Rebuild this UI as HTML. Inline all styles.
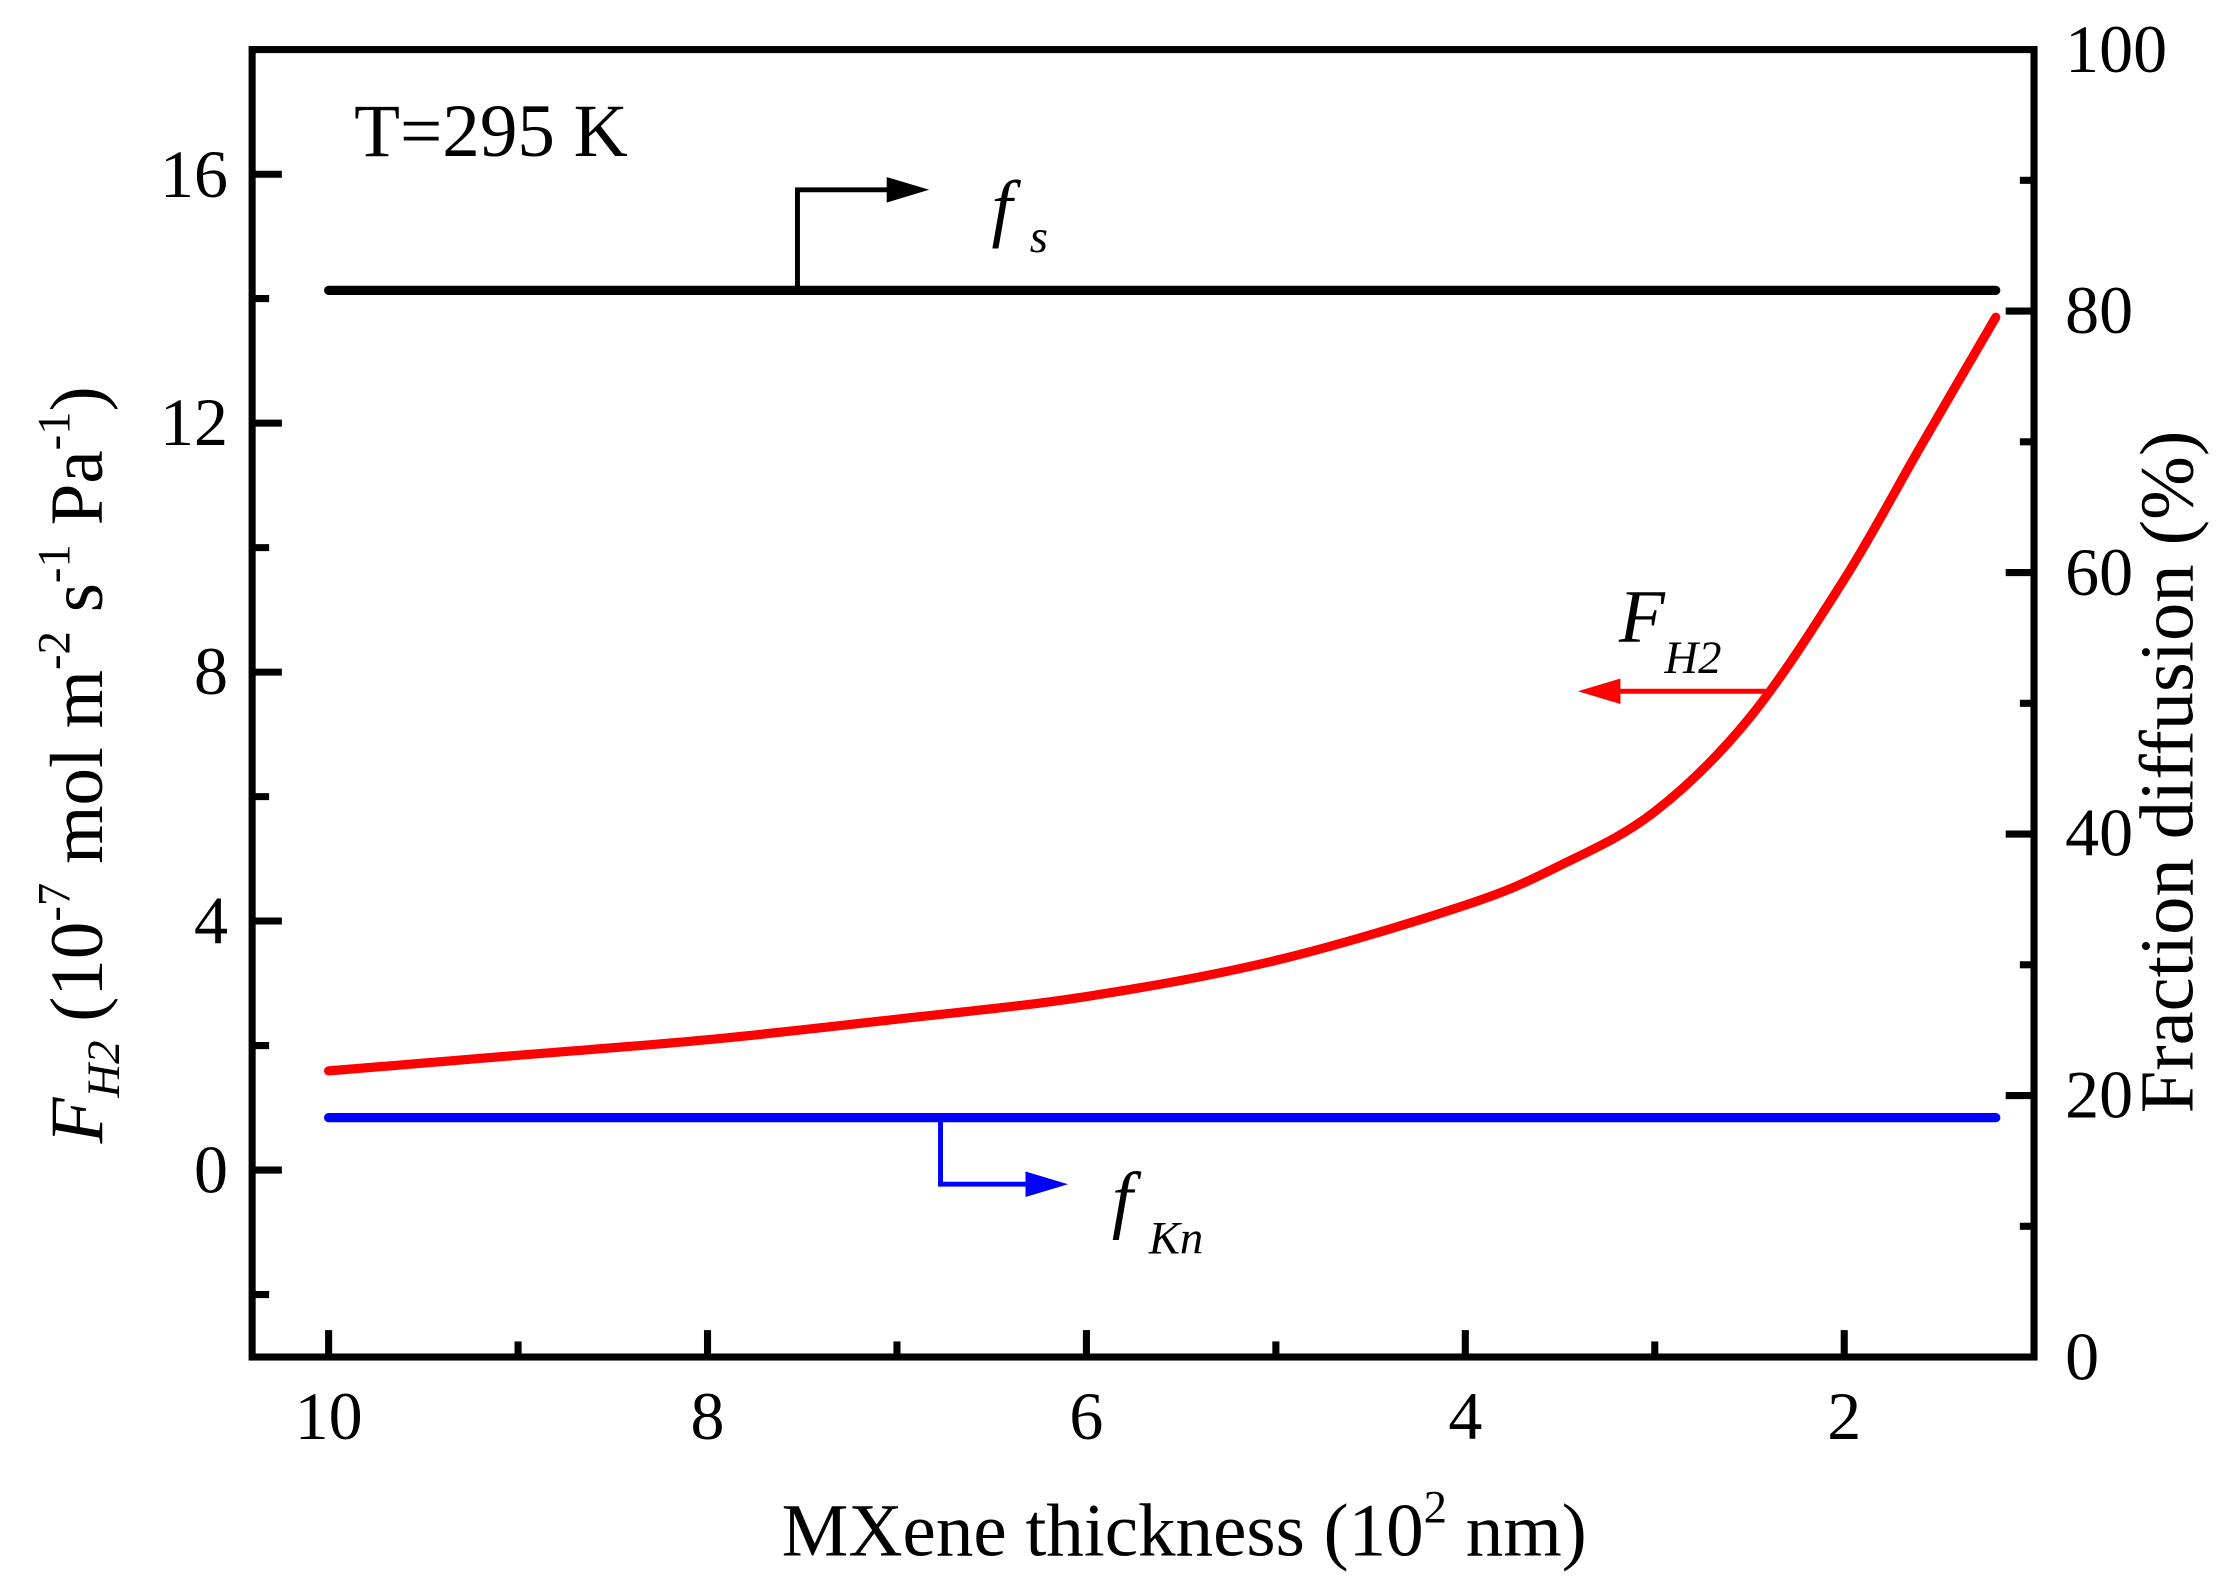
<!DOCTYPE html>
<html><head><meta charset="utf-8"><style>
html,body{margin:0;padding:0;background:#fff;}
svg{display:block;}
text{font-family:"Liberation Serif",serif;fill:#000;}
</style></head><body>
<svg width="2221" height="1594" viewBox="0 0 1568 1125.3" preserveAspectRatio="none" xmlns="http://www.w3.org/2000/svg">
<rect x="178" y="35" width="1258" height="923" fill="none" stroke="#000" stroke-width="5"/>
<g stroke="#000" stroke-width="5">
<line x1="232" y1="958" x2="232" y2="939"/>
<line x1="499.5" y1="958" x2="499.5" y2="939"/>
<line x1="767" y1="958" x2="767" y2="939"/>
<line x1="1034.5" y1="958" x2="1034.5" y2="939"/>
<line x1="1302" y1="958" x2="1302" y2="939"/>
<line x1="365.75" y1="958" x2="365.75" y2="947"/>
<line x1="633.25" y1="958" x2="633.25" y2="947"/>
<line x1="900.75" y1="958" x2="900.75" y2="947"/>
<line x1="1168.25" y1="958" x2="1168.25" y2="947"/>
<line x1="178" y1="826" x2="199" y2="826"/>
<line x1="178" y1="650.2" x2="199" y2="650.2"/>
<line x1="178" y1="474.5" x2="199" y2="474.5"/>
<line x1="178" y1="298.7" x2="199" y2="298.7"/>
<line x1="178" y1="123" x2="199" y2="123"/>
<line x1="178" y1="913.9" x2="190" y2="913.9"/>
<line x1="178" y1="738.1" x2="190" y2="738.1"/>
<line x1="178" y1="562.4" x2="190" y2="562.4"/>
<line x1="178" y1="386.6" x2="190" y2="386.6"/>
<line x1="178" y1="210.8" x2="190" y2="210.8"/>
<line x1="1436" y1="773.4" x2="1416" y2="773.4"/>
<line x1="1436" y1="588.8" x2="1416" y2="588.8"/>
<line x1="1436" y1="404.2" x2="1416" y2="404.2"/>
<line x1="1436" y1="219.6" x2="1416" y2="219.6"/>
<line x1="1436" y1="865.7" x2="1426" y2="865.7"/>
<line x1="1436" y1="681.1" x2="1426" y2="681.1"/>
<line x1="1436" y1="496.5" x2="1426" y2="496.5"/>
<line x1="1436" y1="311.9" x2="1426" y2="311.9"/>
<line x1="1436" y1="127.3" x2="1426" y2="127.3"/>
</g>
<g font-size="48" text-anchor="middle">
<text x="232" y="1016">10</text>
<text x="499.5" y="1016">8</text>
<text x="767" y="1016">6</text>
<text x="1034.5" y="1016">4</text>
<text x="1302" y="1016">2</text>
</g>
<g font-size="48" text-anchor="end">
<text x="161" y="842">0</text>
<text x="161" y="666">4</text>
<text x="161" y="490">8</text>
<text x="161" y="314">12</text>
<text x="161" y="139">16</text>
</g>
<g font-size="48" text-anchor="start">
<text x="1458" y="974">0</text>
<text x="1458" y="789">20</text>
<text x="1458" y="604">40</text>
<text x="1458" y="420">60</text>
<text x="1458" y="235">80</text>
<text x="1458" y="51">100</text>
</g>
<text x="836" y="1098" font-size="53" text-anchor="middle">MXene thickness (10<tspan font-size="33" dy="-23">2</tspan><tspan dy="23"> nm)</tspan></text>
<text transform="translate(72,540) rotate(-90)" font-size="53" text-anchor="middle"><tspan font-style="italic">F</tspan><tspan font-style="italic" font-size="33" dy="12">H2</tspan><tspan dy="-12"> (10</tspan><tspan font-size="33" dy="-23">-7</tspan><tspan dy="23"> mol m</tspan><tspan font-size="33" dy="-23">-2</tspan><tspan dy="23"> s</tspan><tspan font-size="33" dy="-23">-1</tspan><tspan dy="23"> Pa</tspan><tspan font-size="33" dy="-23">-1</tspan><tspan dy="23">)</tspan></text>
<text transform="translate(1548,545) rotate(-90)" font-size="54" text-anchor="middle">Fraction diffusion (%)</text>
<line x1="232" y1="205" x2="1409" y2="205" stroke="#000" stroke-width="6.5" stroke-linecap="round"/>
<line x1="232" y1="789" x2="1409" y2="789" stroke="#0000ff" stroke-width="6.5" stroke-linecap="round"/>
<path id="red" d="" fill="none" stroke="#ff0000" stroke-width="6.5" stroke-linecap="round" stroke-linejoin="round"/>
<text x="250" y="110" font-size="53">T=295 K</text>
<polyline points="563,206 563,134 646,134" fill="none" stroke="#000" stroke-width="3.5"/>
<path d="M626,125 L656,134 L626,143 z" fill="#000"/>
<text x="700" y="164" font-size="53" font-style="italic">f</text>
<text x="727" y="178" font-size="33" font-style="italic">s</text>
<polyline points="664,789 664,836 744,836" fill="none" stroke="#0000ff" stroke-width="3.5"/>
<path d="M724,827 L754,836 L724,845 z" fill="#0000ff"/>
<text x="785" y="864" font-size="53" font-style="italic">f</text>
<text x="811" y="885" font-size="33" font-style="italic">Kn</text>
<line x1="1252" y1="488" x2="1125" y2="488" stroke="#ff0000" stroke-width="3.5"/>
<path d="M1144,479 L1114,488 L1144,497 z" fill="#ff0000"/>
<text x="1143" y="453" font-size="53" font-style="italic">F</text>
<text x="1175" y="475" font-size="33" font-style="italic">H2</text>
</svg>
<script>
var P=[[232,756],[365.75,745],[499.5,734],[633.25,719.5],[767,703.5],[900.75,678],[1034.5,639],[1101.4,611],[1168.25,573],[1235,507],[1302,409],[1355.5,316],[1409,224]];
var d="M"+P[0][0]+","+P[0][1];
for(var i=0;i<P.length-1;i++){var p0=P[Math.max(i-1,0)],p1=P[i],p2=P[i+1],p3=P[Math.min(i+2,P.length-1)];
d+=" C"+(p1[0]+(p2[0]-p0[0])/6)+","+(p1[1]+(p2[1]-p0[1])/6)+" "+(p2[0]-(p3[0]-p1[0])/6)+","+(p2[1]-(p3[1]-p1[1])/6)+" "+p2[0]+","+p2[1];}
document.getElementById("red").setAttribute("d",d);
</script>
</body></html>
